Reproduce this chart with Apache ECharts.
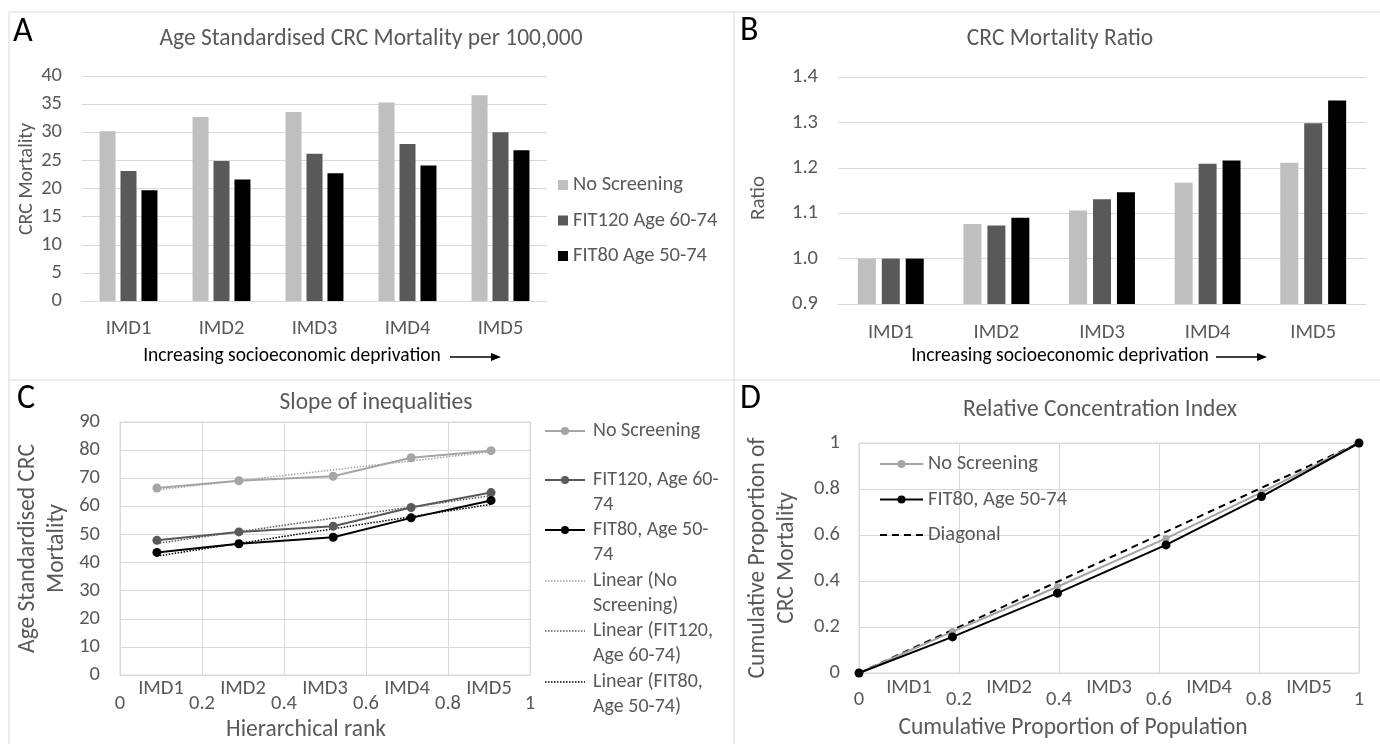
<!DOCTYPE html>
<html>
<head>
<meta charset="utf-8">
<script src="https://cdn.jsdelivr.net/npm/echarts@6/dist/echarts.min.js"></script>
<style>
  html, body { margin: 0; padding: 0; background: #fff; }
  #chart { width: 1380px; height: 744px; }
</style>
</head>
<body>
<div id="chart"></div>
<script>
// categories (deprivation quintiles)
var categories = ['IMD1', 'IMD2', 'IMD3', 'IMD4', 'IMD5'];

// A: age standardised CRC mortality per 100,000
var mortNoScreen = [30.2, 32.7, 33.6, 35.3, 36.6];
var mortFit120 = [23.1, 24.9, 26.2, 27.9, 30.0];
var mortFit80 = [19.7, 21.6, 22.7, 24.1, 26.8];

// B: mortality ratio vs IMD1
var ratioNoScreen = [1.0, 1.076, 1.106, 1.167, 1.211];
var ratioFit120 = [1.0, 1.073, 1.131, 1.209, 1.298];
var ratioFit80 = [1.0, 1.090, 1.146, 1.216, 1.348];

// C: slope of inequalities
var rank = [0.09, 0.29, 0.52, 0.71, 0.905];
var slopeNoScreen = [66.5, 69.1, 70.7, 77.3, 79.8];
var slopeFit120 = [47.9, 50.9, 52.9, 59.6, 64.9];
var slopeFit80 = [43.6, 46.7, 49.0, 55.9, 62.1];
var trendRank = [0.09, 0.905];
var trendNoScreen = [65.8, 79.4];
var trendFit120 = [46.8, 63.8];
var trendFit80 = [42.3, 60.7];

// D: relative concentration index
var cumPop = [0, 0.187, 0.397, 0.614, 0.805, 1];
var cumNoScreen = [0, 0.18, 0.375, 0.585, 0.785, 1];
var cumFit80 = [0, 0.157, 0.347, 0.557, 0.767, 1];
var diagX = [0, 1];
var diagY = [0, 1];

var FONT = 'Carlito, Lato, sans-serif';
var TXT = '#595959';
var LIGHT = '#bfbfbf', DARK = '#595959', BLACK = '#000000';
var LINE_LIGHT = '#a5a5a5';
var GRIDC = '#d9d9d9';

function pairs(xs, ys) {
    return xs.map(function (x, i) { return [x, ys[i]]; });
}

var tick = { color: TXT, fontSize: 20.5, fontFamily: FONT };
function nameStyle(extra) {
    var s = { color: TXT, fontSize: 20, fontFamily: FONT };
    for (var k in extra) s[k] = extra[k];
    return s;
}

var myChart = echarts.init(document.getElementById('chart'));

// legend of panel C (text wraps like the original)
var cLegend = [
    { text: 'No Screening', y: 431, color: LINE_LIGHT, dot: true },
    { text: 'FIT120, Age 60-\n74', y: 480, color: DARK, dot: true },
    { text: 'FIT80, Age 50-\n74', y: 530, color: BLACK, dot: true },
    { text: 'Linear (No\nScreening)', y: 581, color: LINE_LIGHT, dot: false },
    { text: 'Linear (FIT120,\nAge 60-74)', y: 631, color: DARK, dot: false },
    { text: 'Linear (FIT80,\nAge 50-74)', y: 682, color: BLACK, dot: false }
];

var graphics = [
    // panel frames
    { type: 'line', shape: { x1: 9, y1: 12, x2: 1380, y2: 12 }, style: { stroke: GRIDC, lineWidth: 1 } },
    { type: 'line', shape: { x1: 9, y1: 12, x2: 9, y2: 744 }, style: { stroke: GRIDC, lineWidth: 1 } },
    { type: 'line', shape: { x1: 734, y1: 12, x2: 734, y2: 744 }, style: { stroke: GRIDC, lineWidth: 1 } },
    { type: 'line', shape: { x1: 9, y1: 380, x2: 1380, y2: 380 }, style: { stroke: GRIDC, lineWidth: 1 } },
    // arrows after axis titles
    { type: 'line', shape: { x1: 450, y1: 357, x2: 493, y2: 357 }, style: { stroke: BLACK, lineWidth: 1.5 } },
    { type: 'polygon', shape: { points: [[491, 353], [501, 357], [491, 361]] }, style: { fill: BLACK } },
    { type: 'line', shape: { x1: 1216, y1: 357, x2: 1259, y2: 357 }, style: { stroke: BLACK, lineWidth: 1.5 } },
    { type: 'polygon', shape: { points: [[1257, 353], [1267, 357], [1257, 361]] }, style: { fill: BLACK } }
];

cLegend.forEach(function (it) {
    graphics.push({
        type: 'line',
        shape: { x1: 545, y1: it.y, x2: 585, y2: it.y },
        style: { stroke: it.color, lineWidth: it.dot ? 2 : 1.5, lineDash: it.dot ? null : [1.5, 1.5] }
    });
    if (it.dot) {
        graphics.push({ type: 'circle', shape: { cx: 565, cy: it.y, r: 4 }, style: { fill: it.color } });
    }
    graphics.push({
        type: 'text',
        style: {
            text: it.text, x: 593, y: it.y - 12.5,
            fill: TXT, fontSize: 20, fontFamily: FONT, lineHeight: 25,
            align: 'left', verticalAlign: 'top', textAlign: 'left', textVerticalAlign: 'top'
        }
    });
});

function letter(t, x, y) {
    return {
        text: t, left: x, top: y, padding: 0,
        textStyle: { color: BLACK, fontSize: 34, fontWeight: 'normal', fontFamily: FONT, lineHeight: 36 }
    };
}
function heading(t, x, y) {
    return {
        text: t, left: x, top: y, padding: 0, textAlign: 'center',
        textStyle: { color: TXT, fontSize: 23.5, fontWeight: 'normal', fontFamily: FONT, lineHeight: 28 }
    };
}

var option = {
    animation: false,
    backgroundColor: '#fff',
    title: [
        letter('A', 13, 14),
        letter('B', 740, 13),
        letter('C', 17, 381),
        letter('D', 740, 381),
        heading('Age Standardised CRC Mortality per 100,000', 371, 25),
        heading('CRC Mortality Ratio', 1060, 25),
        heading('Slope of inequalities', 376, 389),
        heading('Relative Concentration Index', 1100, 396)
    ],
    legend: [
        {
            orient: 'vertical', left: 558, top: 174, padding: 0, icon: 'rect',
            itemWidth: 10, itemHeight: 10, itemGap: 13.5,
            textStyle: { color: TXT, fontSize: 20.5, fontFamily: FONT, lineHeight: 22 },
            data: ['No Screening', 'FIT120 Age 60-74', 'FIT80 Age 50-74']
        },
        {
            orient: 'vertical', left: 879, top: 453, padding: 0,
            itemWidth: 43, itemHeight: 10, itemGap: 13.5,
            textStyle: { color: TXT, fontSize: 20.5, fontFamily: FONT, lineHeight: 22 },
            data: [
                'Concentration: No Screening',
                'Concentration: FIT80, Age 50-74',
                { name: 'Concentration: Diagonal', itemStyle: { color: 'rgba(0,0,0,0)', borderColor: 'rgba(0,0,0,0)' } }
            ],
            formatter: function (n) { return n.replace('Concentration: ', ''); }
        }
    ],
    graphic: { elements: graphics },
    grid: [
        { left: 82, top: 76, width: 465, height: 225 },
        { left: 838, top: 77, width: 528, height: 227 },
        { left: 120, top: 422, width: 410, height: 253, show: true, borderColor: GRIDC, borderWidth: 1 },
        { left: 859, top: 443, width: 500, height: 230, show: true, borderColor: GRIDC, borderWidth: 1 }
    ],
    xAxis: [
        {
            gridIndex: 0, type: 'category', data: categories,
            axisTick: { show: false }, axisLine: { lineStyle: { color: GRIDC } },
            axisLabel: Object.assign({ margin: 17 }, tick),
            name: 'Increasing socioeconomic deprivation', nameLocation: 'middle', nameGap: 45,
            nameTextStyle: nameStyle({ color: BLACK, fontSize: 19.5, padding: [0, 45, 0, 0] })
        },
        {
            gridIndex: 1, type: 'category', data: categories,
            axisTick: { show: false }, axisLine: { lineStyle: { color: GRIDC } },
            axisLabel: Object.assign({ margin: 18 }, tick),
            name: 'Increasing socioeconomic deprivation', nameLocation: 'middle', nameGap: 42,
            nameTextStyle: nameStyle({ color: BLACK, fontSize: 19.5, padding: [0, 84, 0, 0] })
        },
        {
            gridIndex: 2, type: 'value', min: 0, max: 1, interval: 0.2,
            axisLine: { show: true, lineStyle: { color: GRIDC } }, axisTick: { show: false },
            splitLine: { show: true, lineStyle: { color: GRIDC } },
            axisLabel: Object.assign({ margin: 18 }, tick),
            name: 'Hierarchical rank', nameLocation: 'middle', nameGap: 43,
            nameTextStyle: nameStyle({ fontSize: 23.5, padding: [0, 38, 0, 0] })
        },
        {
            gridIndex: 2, type: 'category', data: categories, position: 'bottom',
            axisLine: { show: false }, axisTick: { show: false }, splitLine: { show: false },
            axisLabel: Object.assign({ margin: 3 }, tick)
        },
        {
            gridIndex: 3, type: 'value', min: 0, max: 1, interval: 0.2,
            axisLine: { show: true, lineStyle: { color: GRIDC } }, axisTick: { show: false },
            splitLine: { show: true, lineStyle: { color: GRIDC } },
            axisLabel: Object.assign({ margin: 16 }, tick),
            name: 'Cumulative Proportion of Population', nameLocation: 'middle', nameGap: 43,
            nameTextStyle: nameStyle({ fontSize: 23.5, padding: [0, 72, 0, 0] })
        },
        {
            gridIndex: 3, type: 'category', data: categories, position: 'bottom',
            axisLine: { show: false }, axisTick: { show: false }, splitLine: { show: false },
            axisLabel: Object.assign({ margin: 4 }, tick)
        }
    ],
    yAxis: [
        {
            gridIndex: 0, type: 'value', min: 0, max: 40, interval: 5,
            axisLine: { show: false }, axisTick: { show: false },
            splitLine: { lineStyle: { color: GRIDC } },
            axisLabel: Object.assign({ margin: 20 }, tick),
            name: 'CRC Mortality', nameLocation: 'middle', nameGap: 45,
            nameTextStyle: nameStyle({ padding: [0, 0, 0, 19] })
        },
        {
            gridIndex: 1, type: 'value', min: 0.9, max: 1.4, interval: 0.1,
            axisLine: { show: false }, axisTick: { show: false },
            splitLine: { lineStyle: { color: GRIDC } },
            axisLabel: Object.assign({ margin: 20, formatter: function (v) { return v.toFixed(1); } }, tick),
            name: 'Ratio', nameLocation: 'middle', nameGap: 69,
            nameTextStyle: nameStyle({ fontSize: 21, padding: [0, 15, 0, 0] })
        },
        {
            gridIndex: 2, type: 'value', min: 0, max: 90, interval: 10,
            axisLine: { show: false }, axisTick: { show: false },
            splitLine: { lineStyle: { color: GRIDC } },
            axisLabel: Object.assign({ margin: 20 }, tick),
            name: 'Age Standardised CRC\nMortality', nameLocation: 'middle', nameGap: 49,
            nameTextStyle: nameStyle({ fontSize: 23.5, lineHeight: 28.7 })
        },
        {
            gridIndex: 3, type: 'value', min: 0, max: 1, interval: 0.2,
            axisLine: { show: false }, axisTick: { show: false },
            splitLine: { lineStyle: { color: GRIDC } },
            axisLabel: Object.assign({ margin: 19 }, tick),
            name: 'Cumulative Proportion of\nCRC Mortality', nameLocation: 'middle', nameGap: 58,
            nameTextStyle: nameStyle({ fontSize: 23.5, lineHeight: 28.7 })
        }
    ],
    series: [
        // A
        { name: 'No Screening', type: 'bar', xAxisIndex: 0, yAxisIndex: 0, barWidth: 16, barGap: '31%', itemStyle: { color: LIGHT }, data: mortNoScreen },
        { name: 'FIT120 Age 60-74', type: 'bar', xAxisIndex: 0, yAxisIndex: 0, barWidth: 16, barGap: '31%', itemStyle: { color: DARK }, data: mortFit120 },
        { name: 'FIT80 Age 50-74', type: 'bar', xAxisIndex: 0, yAxisIndex: 0, barWidth: 16, barGap: '31%', itemStyle: { color: BLACK }, data: mortFit80 },
        // B
        { name: 'Ratio: No Screening', type: 'bar', xAxisIndex: 1, yAxisIndex: 1, barWidth: 18, barGap: '33%', clip: true, itemStyle: { color: LIGHT }, data: ratioNoScreen },
        { name: 'Ratio: FIT120 Age 60-74', type: 'bar', xAxisIndex: 1, yAxisIndex: 1, barWidth: 18, barGap: '33%', clip: true, itemStyle: { color: DARK }, data: ratioFit120 },
        { name: 'Ratio: FIT80 Age 50-74', type: 'bar', xAxisIndex: 1, yAxisIndex: 1, barWidth: 18, barGap: '33%', clip: true, itemStyle: { color: BLACK }, data: ratioFit80 },
        // C
        { name: 'Slope: No Screening', type: 'line', xAxisIndex: 2, yAxisIndex: 2, symbol: 'circle', symbolSize: 9,
          itemStyle: { color: LINE_LIGHT }, lineStyle: { color: LINE_LIGHT, width: 2 }, data: pairs(rank, slopeNoScreen) },
        { name: 'Slope: FIT120, Age 60-74', type: 'line', xAxisIndex: 2, yAxisIndex: 2, symbol: 'circle', symbolSize: 9,
          itemStyle: { color: DARK }, lineStyle: { color: DARK, width: 2 }, data: pairs(rank, slopeFit120) },
        { name: 'Slope: FIT80, Age 50-74', type: 'line', xAxisIndex: 2, yAxisIndex: 2, symbol: 'circle', symbolSize: 9,
          itemStyle: { color: BLACK }, lineStyle: { color: BLACK, width: 2 }, data: pairs(rank, slopeFit80) },
        { name: 'Linear (No Screening)', type: 'line', xAxisIndex: 2, yAxisIndex: 2, symbol: 'none',
          lineStyle: { color: LINE_LIGHT, width: 1.5, type: [1.5, 1.5] }, data: pairs(trendRank, trendNoScreen) },
        { name: 'Linear (FIT120, Age 60-74)', type: 'line', xAxisIndex: 2, yAxisIndex: 2, symbol: 'none',
          lineStyle: { color: DARK, width: 1.5, type: [1.5, 1.5] }, data: pairs(trendRank, trendFit120) },
        { name: 'Linear (FIT80, Age 50-74)', type: 'line', xAxisIndex: 2, yAxisIndex: 2, symbol: 'none',
          lineStyle: { color: BLACK, width: 1.5, type: [1.5, 1.5] }, data: pairs(trendRank, trendFit80) },
        // D
        { name: 'Concentration: Diagonal', type: 'line', xAxisIndex: 4, yAxisIndex: 3, symbol: 'none',
          itemStyle: { color: BLACK }, lineStyle: { color: BLACK, width: 2, type: [7, 5] }, data: pairs(diagX, diagY) },
        { name: 'Concentration: No Screening', type: 'line', xAxisIndex: 4, yAxisIndex: 3, symbol: 'circle', symbolSize: 7,
          itemStyle: { color: LINE_LIGHT }, lineStyle: { color: LINE_LIGHT, width: 2 }, data: pairs(cumPop, cumNoScreen) },
        { name: 'Concentration: FIT80, Age 50-74', type: 'line', xAxisIndex: 4, yAxisIndex: 3, symbol: 'circle', symbolSize: 9,
          itemStyle: { color: BLACK }, lineStyle: { color: BLACK, width: 2 }, data: pairs(cumPop, cumFit80) }
    ]
};

myChart.setOption(option);
</script>
</body>
</html>
